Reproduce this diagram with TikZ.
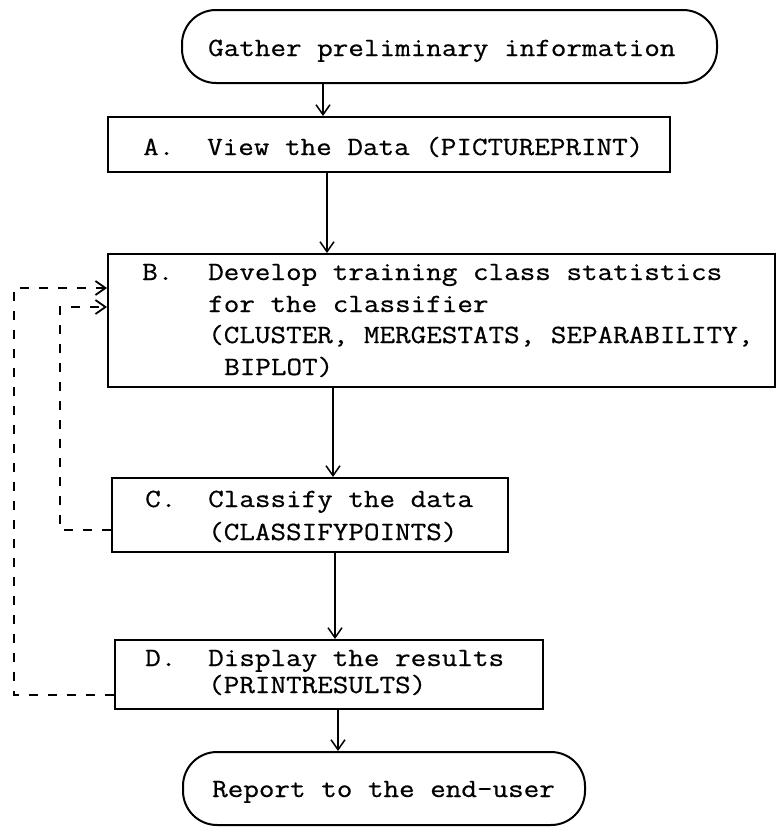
\documentclass[tikz,border=0pt]{standalone}
\usepackage{fontspec}
\newfontfamily\tw[FakeStretch=1.15,FakeBold=0.6]{Latin Modern Mono}
\usetikzlibrary{arrows.meta}
\begin{document}
\begin{tikzpicture}[x=1pt,y=-1pt,
  box/.style={draw=black, line width=2pt, rectangle, inner sep=0pt},
  term/.style={draw=black, line width=2pt, rectangle, rounded corners=34pt, inner sep=0pt},
  txt/.style={anchor=base west, inner sep=0pt, font=\tw\fontsize{26.3}{31.7}\selectfont, text=black},
  arr/.style={draw=black, line width=1.5pt, -{Straight Barb[length=10pt,width=14pt]}},
  fb/.style={draw=black, line width=1.8pt, dash pattern=on 9pt off 10pt},
  fbarr/.style={fb, -{Straight Barb[length=10pt,width=14pt]}}]
\useasboundingbox (0,0) rectangle (783,836);
\fill[white] (0,0) rectangle (783,836);

% shapes
\node[term, minimum width=535pt, minimum height=73pt] (G) at (449.5,46.5) {};
\node[box, minimum width=562pt, minimum height=55pt] (A) at (389,144.5) {};
\node[box, minimum width=667pt, minimum height=133pt] (B) at (441.5,320.5) {};
\node[box, minimum width=396pt, minimum height=74pt] (C) at (310,515) {};
\node[box, minimum width=428pt, minimum height=69pt] (D) at (329,674.5) {};
\node[term, minimum width=402pt, minimum height=73pt] (R) at (384,788.5) {};

% texts
\node[txt] (Gt) at (208,56) {Gather preliminary information};
\node[txt] (Al) at (143,155) {A.};
\node[txt] (At) at (207,155) {View the Data (PICTUREPRINT)};
\node[txt] (Bl) at (142,280) {B.};
\node[txt] (Bt1) at (208,280) {Develop training class statistics};
\node[txt] (Bt2) at (208,312) {for the classifier};
\node[txt] (Bt3) at (208,343) {(CLUSTER, MERGESTATS, SEPARABILITY,};
\node[txt] (Bt4) at (224,375) {BIPLOT)};
\node[txt] (Cl) at (145,507) {C.};
\node[txt] (Ct1) at (208,507) {Classify the data};
\node[txt] (Ct2) at (208,540) {(CLASSIFYPOINTS)};
\node[txt] (Dl) at (145,666) {D.};
\node[txt] (Dt1) at (208,666) {Display the results};
\node[txt] (Dt2) at (208,693) {(PRINTRESULTS)};
\node[txt] (Rt) at (212,797) {Report to the end-user};

% arrow columns
\coordinate (x1) at (323,0);
\coordinate (x2) at (327,0);
\coordinate (x3) at (333,0);
\coordinate (x4) at (335,0);
\coordinate (x5) at (338,0);
\draw[arr] (G.south -| x1) -- (A.north -| x1);
\draw[arr] (A.south -| x2) -- (B.north -| x2);
\draw[arr] (B.south -| x3) -- (C.north -| x3);
\draw[arr] (C.south -| x4) -- (D.north -| x4);
\draw[arr] (D.south -| x5) -- (R.north -| x5);

% feedback loops
\coordinate (o1) at (14,695);
\coordinate (o2) at (14,288);
\coordinate (i1) at (60,530);
\coordinate (i2) at (60,307);
\draw[fbarr] (D.west |- o1) -- (o1) -- (o2) -- (B.west |- o2);
\draw[fbarr] (C.west |- i1) -- (i1) -- (i2) -- (B.west |- i2);
\end{tikzpicture}
\end{document}
